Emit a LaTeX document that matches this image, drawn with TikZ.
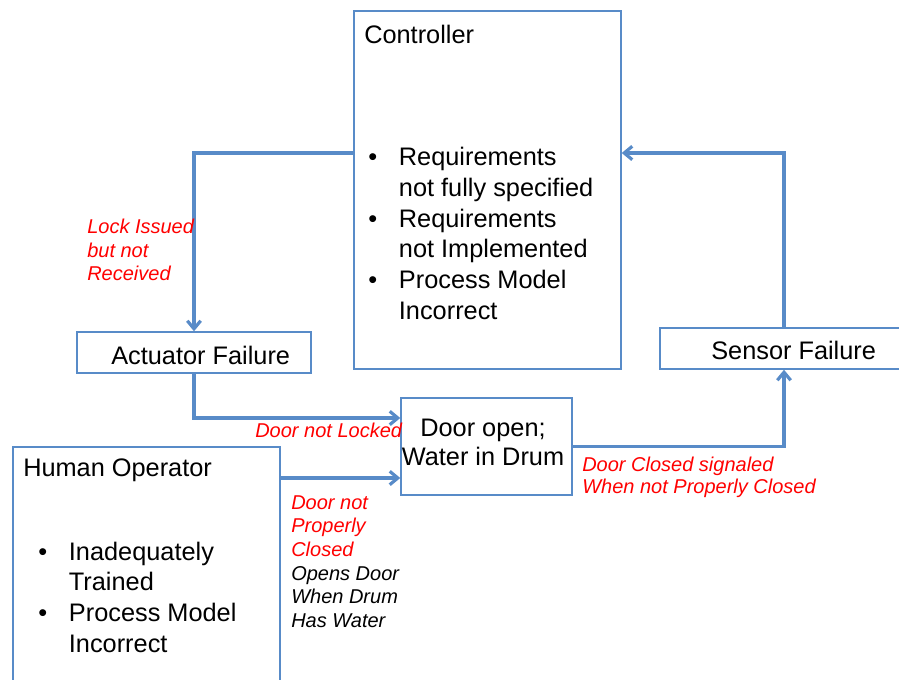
\documentclass[tikz,border=0pt]{standalone}
\usepackage{fontspec}
\setmainfont{Liberation Sans}
\usetikzlibrary{arrows.meta,fit}
\definecolor{boxblue}{RGB}{88,139,200}

\newcommand{\bul}{\makebox[23pt][l]{\textbullet}}
\newcommand{\ind}{\makebox[23pt]{}}

\begin{document}
\begin{tikzpicture}[x=0.75pt,y=-0.75pt,
  box/.style={draw=boxblue,line width=1.1pt,inner sep=0pt},
  flow/.style={draw=boxblue,line width=2.4pt,-{Straight Barb[length=6pt,width=10pt]}},
  bigtxt/.style={inner sep=0pt,anchor=west,align=left,font=\fontsize{19}{23}\selectfont},
  redtxt/.style={inner sep=0pt,anchor=west,align=left,text=red,font=\fontsize{15}{17.5}\selectfont\itshape}]

\useasboundingbox (0,0) rectangle (899,679);

%% the boxes
\node[box,fit={(354,11) (621,369)}] (ctrl) {};
\node[box,fit={(77,332) (311,373)}] (act) {};
\node[box,fit={(660,328) (908,369)}] (sens) {};
\node[box,fit={(401,398) (572,495)}] (door) {};
\node[box,fit={(13,447) (280,700)}] (hum) {};

%% heights of the loop lines
\coordinate (fb) at (0,153);
\coordinate (lk) at (0,418);
\coordinate (op) at (0,478);

%% the loop
\draw[flow] (ctrl.west |- fb) -| (act.north);
\draw[flow] (act.south) |- (door.west |- lk);
\draw[flow] (hum.east |- op) -- (door.west |- op);
\draw[flow] (door.east) -| (sens.south);
\draw[flow] (sens.north) |- (ctrl.east |- fb);

%% text in the boxes
\node[bigtxt] (ctrltitle) at (364,34) {Controller};
\node[bigtxt] (ctrllist) at (368,233.5) {\bul Requirements\\ \ind not fully specified\\ \bul Requirements\\ \ind not Implemented\\ \bul Process Model\\ \ind Incorrect};
\node[bigtxt] (acttxt) at (111,355) {Actuator Failure};
\node[bigtxt] (senstxt) at (711,350) {Sensor Failure};
\node[bigtxt,anchor=center,align=center,font=\fontsize{19}{21.75}\selectfont] (doortxt) at (483,442.5) {Door open;\\Water in Drum};
\node[bigtxt] (humtitle) at (23,470) {Human Operator};
\node[bigtxt] (humlist) at (38,597) {\bul Inadequately\\ \ind Trained\\ \bul Process Model\\ \ind Incorrect};

%% the flaws on the lines
\node[redtxt] (lockmsg) at (87,250) {Lock Issued\\but not\\Received};
\node[redtxt] (lockedmsg) at (255,430) {Door not Locked};
\node[redtxt,font=\fontsize{15}{17.75}\selectfont\itshape] (closemsg) at (291,561.7) {Door not\\Properly\\Closed\\\textcolor{black}{Opens Door}\\\textcolor{black}{When Drum}\\\textcolor{black}{Has Water}};
\node[redtxt,font=\fontsize{15}{16.5}\selectfont\itshape] (signalmsg) at (582,477) {Door Closed signaled\\When not Properly Closed};

\end{tikzpicture}
\end{document}
